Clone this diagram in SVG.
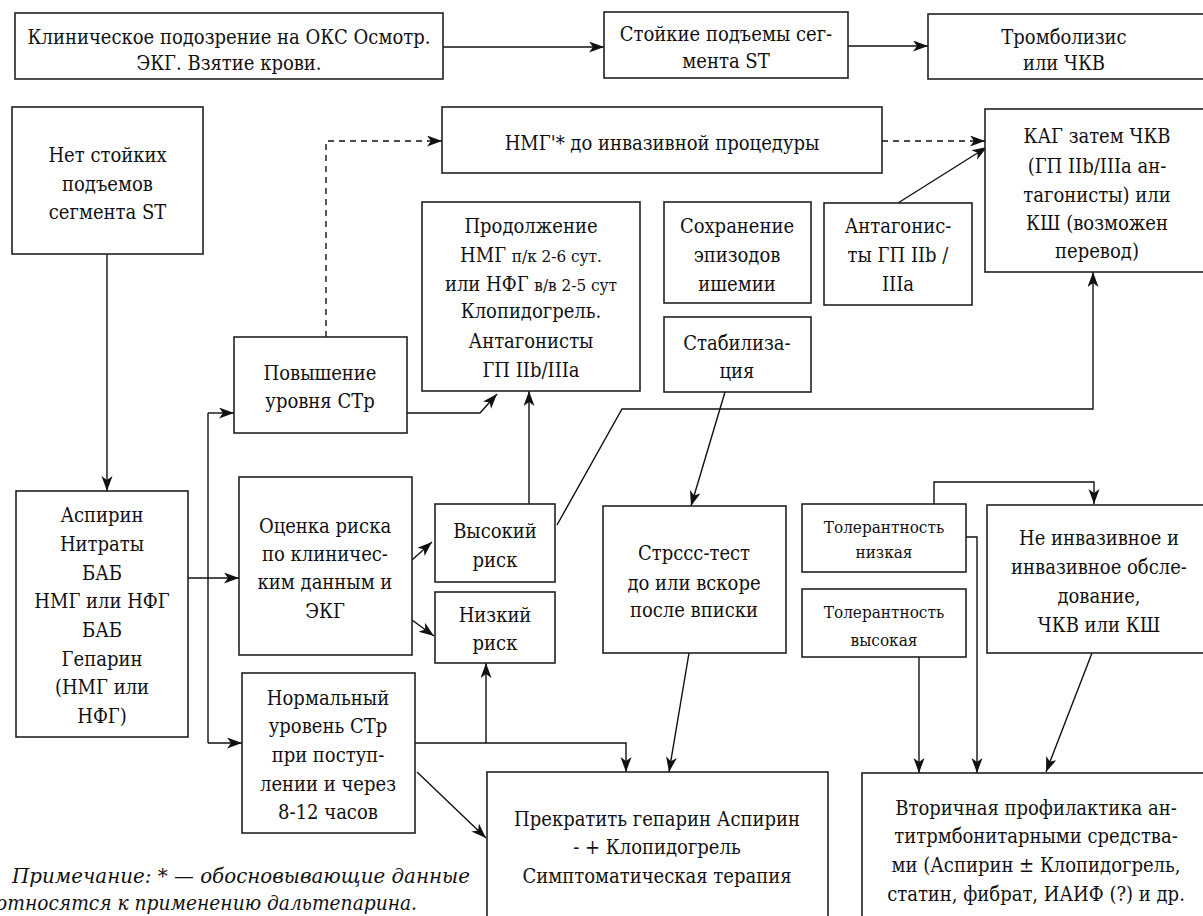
<svg xmlns="http://www.w3.org/2000/svg" width="1203" height="916" viewBox="0 0 1203 916">
<defs>
<marker id="ah" markerUnits="userSpaceOnUse" markerWidth="16" markerHeight="12" refX="15" refY="5.5" orient="auto">
<path d="M0,0 L15,5.5 L0,11 L4,5.5 z" fill="#111"/>
</marker>
<style>
rect{fill:#fff;stroke:#222;stroke-width:1.6}
text{font-family:'DejaVu Serif Condensed','DejaVu Serif',serif;font-size:20px;fill:#111;text-anchor:middle}
.s{font-size:17px}
.n{font-style:italic;font-size:20px;text-anchor:start}
.c{fill:none;stroke:#111;stroke-width:1.4;marker-end:url(#ah)}
.l{fill:none;stroke:#111;stroke-width:1.4}
.d{stroke-dasharray:6 5}
</style>
</defs>
<rect x="0" y="0" width="1203" height="916" style="fill:#fff;stroke:none"/>
<g id="connectors">
<path class="c" d="M443,47 H604"/>
<path class="c" d="M848,46 H928"/>
<path class="c" d="M107,254 V491"/>
<path class="c" d="M188,578 H239"/>
<path class="l" d="M208,413 V743"/>
<path class="c" d="M208,413 H234"/>
<path class="c" d="M208,743 H242"/>
<path class="c d" d="M326,337 V141 H442"/>
<path class="c d" d="M882,141 H985"/>
<path class="c" d="M898,203 L987,147"/>
<path class="c" d="M407,413 H480 L497,394"/>
<path class="c" d="M529,504 V391"/>
<path class="c" d="M557,525 L622,409 H1093 V272"/>
<path class="c" d="M725,392 L691,506"/>
<path class="c" d="M412,560 L432,542"/>
<path class="c" d="M412,620 L434,636"/>
<path class="c" d="M415,743 H626 V772"/>
<path class="c" d="M486,743 V663"/>
<path class="c" d="M417,772 L486,838"/>
<path class="c" d="M689,653 L669,772"/>
<path class="c" d="M934,504 V482 H1094 V504"/>
<path class="c" d="M966,537 H977 V773"/>
<path class="c" d="M919,657 V773"/>
<path class="c" d="M1092,653 L1046,772"/>
</g>
<g id="n1"><rect x="15" y="13" width="428" height="66"/><text x="229" y="44">Клиническое подозрение на ОКС Осмотр.</text><text x="229" y="70">ЭКГ. Взятие крови.</text></g>
<g id="n2"><rect x="604" y="12" width="244" height="66"/><text x="726" y="41">Стойкие подъемы сег-</text><text x="726" y="68">мента ST</text></g>
<g id="n3"><rect x="928" y="14" width="285" height="65"/><text x="1064" y="44">Тромболизис</text><text x="1064" y="70">или ЧКВ</text></g>
<g id="n4"><rect x="12" y="107" width="191" height="147"/><text x="107.5" y="162">Нет стойких</text><text x="107.5" y="191">подъемов</text><text x="107.5" y="219">сегмента ST</text></g>
<g id="n5"><rect x="442" y="107" width="440" height="66"/><text x="662" y="150">НМГ'* до инвазивной процедуры</text></g>
<g id="n6"><rect x="985" y="109" width="228" height="163"/><text x="1097" y="143">КАГ затем ЧКВ</text><text x="1097" y="173">(ГП IIb/IIIa ан-</text><text x="1097" y="202">тагонисты) или</text><text x="1097" y="230">КШ (возможен</text><text x="1097" y="258">перевод)</text></g>
<g id="n7"><rect x="422" y="202" width="218" height="189"/><text x="531" y="233">Продолжение</text><text x="531" y="262">НМГ <tspan class="s">п/к 2-6 сут.</tspan></text><text x="531" y="291">или НФГ <tspan class="s">в/в 2-5 сут</tspan></text><text x="531" y="318">Клопидогрель.</text><text x="531" y="348">Антагонисты</text><text x="531" y="377">ГП IIb/IIIa</text></g>
<g id="n8"><rect x="664" y="202" width="147" height="101"/><text x="737" y="233">Сохранение</text><text x="737" y="262">эпизодов</text><text x="737" y="291">ишемии</text></g>
<g id="n9"><rect x="824" y="203" width="148" height="102"/><text x="898" y="233">Антагонис-</text><text x="898" y="262">ты ГП IIb /</text><text x="898" y="291">IIIa</text></g>
<g id="n10"><rect x="664" y="317" width="147" height="75"/><text x="737" y="350">Стабилиза-</text><text x="737" y="378">ция</text></g>
<g id="n11"><rect x="234" y="337" width="173" height="96"/><text x="320" y="380">Повышение</text><text x="320" y="408">уровня СТр</text></g>
<g id="n12"><rect x="16" y="491" width="172" height="246"/><text x="102" y="522">Аспирин</text><text x="102" y="551">Нитраты</text><text x="102" y="580">БАБ</text><text x="102" y="608">НМГ или НФГ</text><text x="102" y="637">БАБ</text><text x="102" y="666">Гепарин</text><text x="102" y="694">(НМГ или</text><text x="102" y="723">НФГ)</text></g>
<g id="n13"><rect x="239" y="477" width="173" height="178"/><text x="325" y="533">Оценка риска</text><text x="325" y="561">по клиничес-</text><text x="325" y="589">ким данным и</text><text x="325" y="618">ЭКГ</text></g>
<g id="n14"><rect x="435" y="504" width="120" height="78"/><text x="495" y="538">Высокий</text><text x="495" y="567">риск</text></g>
<g id="n15"><rect x="435" y="592" width="120" height="71"/><text x="495" y="622">Низкий</text><text x="495" y="650">риск</text></g>
<g id="n16"><rect x="242" y="673" width="173" height="160"/><text x="328" y="705">Нормальный</text><text x="328" y="733">уровень СТр</text><text x="328" y="762">при поступ-</text><text x="328" y="791">лении и через</text><text x="328" y="819">8-12 часов</text></g>
<g id="n17"><rect x="603" y="506" width="183" height="147"/><text x="694" y="560">Стрссс-тест</text><text x="694" y="590">до или вскоре</text><text x="694" y="617">после вписки</text></g>
<g id="n18"><rect x="802" y="504" width="164" height="68"/><text class="s" x="884" y="533">Толерантность</text><text class="s" x="884" y="558">низкая</text></g>
<g id="n19"><rect x="802" y="589" width="164" height="68"/><text class="s" x="884" y="618">Толерантность</text><text class="s" x="884" y="646">высокая</text></g>
<g id="n20"><rect x="987" y="505" width="226" height="148"/><text x="1099" y="545">Не инвазивное и</text><text x="1099" y="574">инвазивное обсле-</text><text x="1099" y="603">дование,</text><text x="1099" y="632">ЧКВ или КШ</text></g>
<g id="n21"><rect x="487" y="772" width="341" height="160"/><text x="657" y="826">Прекратить гепарин Аспирин</text><text x="657" y="854">- + Клопидогрель</text><text x="657" y="883">Симптоматическая терапия</text></g>
<g id="n22"><rect x="862" y="773" width="351" height="160"/><text x="1036" y="815">Вторичная профилактика ан-</text><text x="1036" y="843">титрмбонитарными средства-</text><text x="1036" y="872">ми (Аспирин ± Клопидогрель,</text><text x="1036" y="901">статин, фибрат, ИАИФ (?) и др.</text></g>
<g id="note"><text class="n" x="12" y="883" textLength="458" lengthAdjust="spacingAndGlyphs">Примечание: * — обосновывающие данные</text><text class="n" x="-4" y="910" textLength="421" lengthAdjust="spacingAndGlyphs">относятся к применению дальтепарина.</text></g>
</svg>
